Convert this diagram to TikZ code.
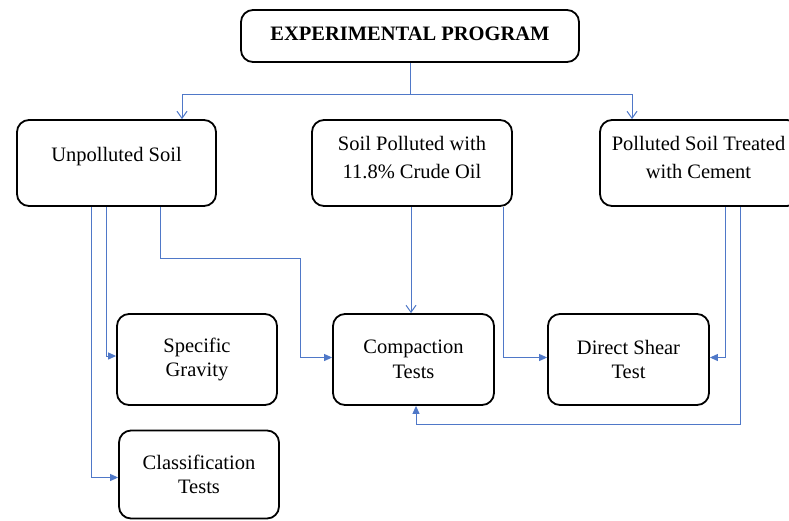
\documentclass[tikz,border=0pt]{standalone}
\usepackage{fontspec}
\setmainfont{LiberationSerif}[Extension=.ttf,UprightFont=*-Regular,BoldFont=*-Bold,ItalicFont=*-Italic,BoldItalicFont=*-BoldItalic]
\usetikzlibrary{arrows.meta}
\definecolor{conn}{RGB}{79,120,200}
\begin{document}
\begin{tikzpicture}[x=1pt,y=-1pt,
  box/.style={draw=black,line width=1.8pt,rounded corners=12pt,fill=white,inner sep=0pt,align=center,
    font=\rmfamily\fontsize{20.5}{24.5}\selectfont},
  toptxt/.style={font=\rmfamily\fontsize{20.5}{28.5}\selectfont,align=center},
  link/.style={draw=conn,line width=1pt},
  fillarr/.style={link,-{Triangle[length=8pt,width=7pt]}},
  openarr/.style={link,-{Straight Barb[length=7pt,width=10pt,line width=1pt]}}]
\useasboundingbox (0,0) rectangle (789,520);
\fill[white] (0,0) rectangle (789,520);

\node[box,minimum width=338pt,minimum height=52pt] (title) at (410,36) {};
\node[toptxt,font=\rmfamily\fontsize{20.5}{28.5}\selectfont\bfseries] (titletxt) at (410,34) {EXPERIMENTAL PROGRAM};

\node[box,minimum width=199pt,minimum height=86pt] (unpol) at (116.5,163) {};
\node[toptxt] (unpoltxt) at (116.5,157) {Unpolluted Soil};
\node[box,minimum width=200pt,minimum height=86pt] (spoil) at (412,163) {};
\node[toptxt] (spoiltxt) at (412,157.5) {Soil Polluted with\\11.8\% Crude Oil};
\node[box,minimum width=199pt,minimum height=86pt] (treat) at (699.5,163) {};
\node[toptxt] (treattxt) at (698.5,157.5) {Polluted Soil Treated\\with Cement};

\node[box,minimum width=160pt,minimum height=91pt] (sg) at (197,359.5) {Specific\\Gravity};
\node[box,minimum width=161pt,minimum height=91pt] (comp) at (413.5,359.5) {Compaction\\Tests};
\node[box,minimum width=161pt,minimum height=91pt] (dst) at (628.5,359.5) {Direct Shear\\Test};
\node[box,minimum width=160pt,minimum height=88pt] (cls) at (199,474.5) {Classification\\Tests};

% from the programme to the soils
\draw[link] (title.south) -- ++(0,31.3) coordinate (split);
\draw[openarr] (split) -| ([xshift=65.5pt]unpol.north);
\draw[openarr] (split) -| ([xshift=-67.5pt]treat.north);

% from the unpolluted soil
\draw[fillarr] ([xshift=-25.5pt]unpol.south) |- ([yshift=-3pt]cls.west);
\draw[fillarr] ([xshift=-10pt]unpol.south) |- ([yshift=3.5pt]sg.west);
\draw[link] ([xshift=43.5pt]unpol.south) |- (300,258) coordinate (bend);
\draw[fillarr] (bend) |- ([yshift=2pt]comp.west);

% from the polluted soil
\draw[openarr] ([xshift=-1pt]spoil.south) -- ([xshift=-2.5pt]comp.north);
\draw[fillarr] ([xshift=91pt]spoil.south) |- ([yshift=2pt]dst.west);

% from the treated soil
\draw[fillarr] ([xshift=25.5pt]treat.south) |- ([yshift=2pt]dst.east);
\draw[fillarr] ([xshift=40.5pt]treat.south) -- ++(0,217.3) -| ([xshift=2.5pt]comp.south);
\end{tikzpicture}
\end{document}
